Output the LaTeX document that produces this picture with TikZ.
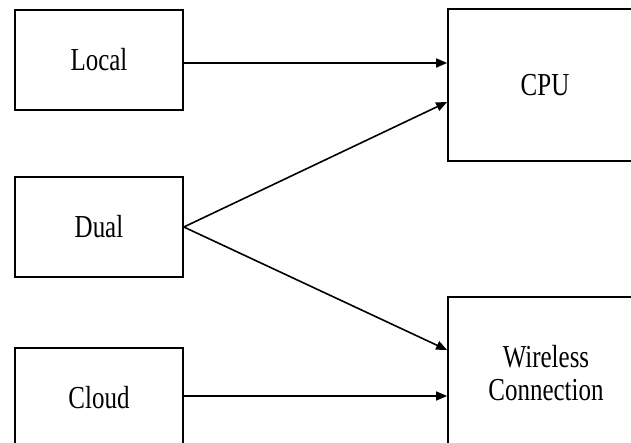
\documentclass[tikz,border=0pt]{standalone}
\usepackage{fontspec}
\setmainfont{Liberation Serif}[FakeStretch=0.78]
\usetikzlibrary{arrows.meta}
\begin{document}
\begin{tikzpicture}[x=1pt,y=-1pt,
  blk/.style={draw=black, line width=1.7pt, inner sep=0pt, align=center,
    font=\fontsize{32}{33}\selectfont},
  conn/.style={line width=1.6pt, -{Triangle[length=11pt,width=9pt]}}]
\clip (0,0) rectangle (631,443);
\fill[white] (0,0) rectangle (631,443);
\node[blk, minimum width=168pt, minimum height=100pt] (local) at (99,60) {Local};
\node[blk, minimum width=168pt, minimum height=100pt] (dual) at (99,227) {Dual};
\node[blk, minimum width=168pt, minimum height=100pt] (cloud) at (99,398) {Cloud};
\node[blk, minimum width=194pt, minimum height=152pt] (cpu) at (545,85) {CPU};
\node[blk, minimum width=196pt, minimum height=152pt] (wl) at (546,373) {Wireless\\Connection};
\draw[conn] ([yshift=-3pt]local.east) -- ([yshift=-3pt]local.east -| cpu.west);
\draw[conn] (dual.east) -- ([yshift=-17pt]cpu.west);
\draw[conn] (dual.east) -- ([yshift=23pt]wl.west);
\draw[conn] ([yshift=2pt]cloud.east) -- ([yshift=2pt]cloud.east -| wl.west);
\end{tikzpicture}
\end{document}
